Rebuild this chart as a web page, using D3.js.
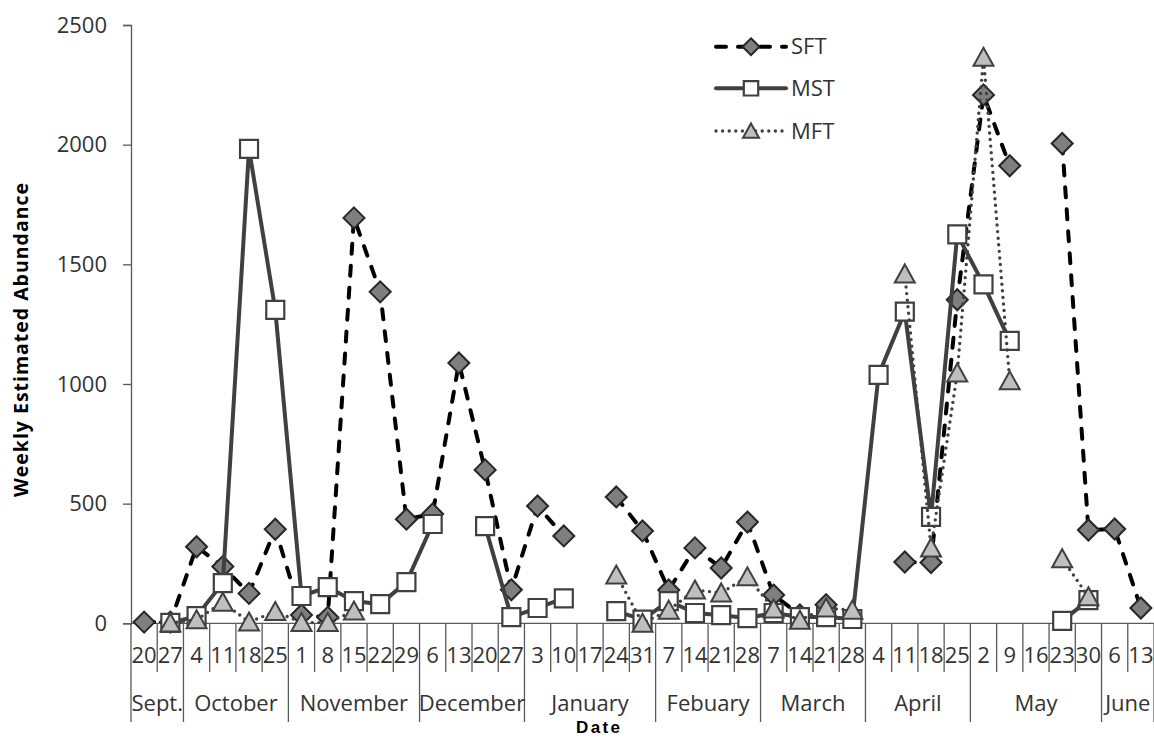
<!DOCTYPE html>
<html>
<head>
<meta charset="utf-8">
<script src="https://cdn.jsdelivr.net/npm/d3@7"></script>
<style>
  html, body { margin: 0; padding: 0; background: #fff; }
  svg { display: block; font-family: "Open Sans", "Liberation Sans", sans-serif; }
</style>
</head>
<body>
<svg id="chart" width="1154" height="738"></svg>
<script>
// ---- data ----
const days = ["20","27","4","11","18","25","1","8","15","22","29","6","13","20","27","3","10","17","24","31","7","14","21","28","7","14","21","28","4","11","18","25","2","9","16","23","30","6","13"];
const months = ["Sept.","October","November","December","January","Febuary","March","April","May","June"];
const monthWeeks = [2,4,5,4,5,4,4,4,5,2];
const yTicks = [0,500,1000,1500,2000,2500];

const SFT = [5,5,320,237,125,393,35,25,1694,1385,435,457,1088,641,140,490,365,null,528,386,139,315,231,423,118,35,78,null,null,256,254,1352,2208,1912,null,2005,390,394,64];
const MST = [null,2,30,168,1982,1310,114,151,93,80,172,415,null,406,26,64,104,null,51,15,93,43,34,22,43,26,26,18,1038,1302,445,1625,1416,1180,null,10,97,null,null];
const MFT = [null,1,15,88,5,49,3,3,51,null,null,null,null,null,null,null,null,null,202,0,55,139,127,194,60,13,64,55,null,1460,315,1046,2365,1013,null,270,111,null,null];

const seriesNames = ["SFT","MST","MFT"];

// ---- layout ----
const svg = d3.select("#chart");
const plotLeft = 131, plotRight = 1154, plotTop = 25, plotBottom = 623.3;

const x = d3.scaleBand().domain(d3.range(days.length)).range([plotLeft, plotRight]).padding(0);
const y = d3.scaleLinear().domain([0, 2500]).range([plotBottom, plotTop]);

// ---- y axis ----
const yAxis = d3.axisLeft(y).tickValues(yTicks).tickSize(8).tickPadding(16).tickFormat(d3.format("d"));
const gy = svg.append("g").attr("transform", `translate(${plotLeft},0)`).call(yAxis);
gy.select(".domain").attr("stroke", "#595959").attr("stroke-width", 1.3);
gy.selectAll(".tick line").attr("stroke", "#595959").attr("stroke-width", 1.3);
gy.selectAll(".tick text").attr("font-size", 22).attr("fill", "#333").attr("font-family", "Open Sans, sans-serif");

// ---- x axis (multi-level category) ----
const gx = svg.append("g");
gx.append("line").attr("x1", plotLeft).attr("x2", plotRight).attr("y1", plotBottom).attr("y2", plotBottom)
  .attr("stroke", "#595959").attr("stroke-width", 1.3);
const monthBounds = d3.cumsum([0].concat(monthWeeks));
const boundSet = new Set(Array.from(monthBounds));
const bounds = d3.range(days.length + 1);
gx.selectAll("line.b").data(bounds).join("line")
  .attr("class", "b")
  .attr("x1", i => i < days.length ? x(i) : plotRight)
  .attr("x2", i => i < days.length ? x(i) : plotRight)
  .attr("y1", plotBottom)
  .attr("y2", i => boundSet.has(i) ? 722 : 672)
  .attr("stroke", "#595959").attr("stroke-width", 1.3);
gx.selectAll("text.day").data(days).join("text")
  .attr("class", "day")
  .attr("x", (d, i) => x(i) + x.bandwidth() / 2)
  .attr("y", 663)
  .attr("text-anchor", "middle")
  .attr("font-size", 22).attr("fill", "#333")
  .text(d => d);
gx.selectAll("text.month").data(months).join("text")
  .attr("class", "month")
  .attr("x", (d, i) => (x(monthBounds[i]) + (monthBounds[i + 1] < days.length ? x(monthBounds[i + 1]) : plotRight)) / 2)
  .attr("y", 711)
  .attr("text-anchor", "middle")
  .attr("font-size", 22).attr("fill", "#333")
  .text(d => d);

// ---- axis titles ----
svg.append("text")
  .attr("transform", "translate(28,340) rotate(-90)")
  .attr("text-anchor", "middle")
  .attr("font-size", 19.5).attr("font-weight", "bold").attr("fill", "#000")
  .attr("textLength", 314).attr("lengthAdjust", "spacing")
  .text("Weekly Estimated Abundance");
svg.append("text")
  .attr("x", 598).attr("y", 733)
  .attr("text-anchor", "middle")
  .attr("font-family", "Liberation Sans, Arial, sans-serif")
  .attr("font-size", 17).attr("font-weight", "bold").attr("fill", "#000")
  .attr("textLength", 44).attr("lengthAdjust", "spacing")
  .text("Date");

// ---- marker shapes ----
const diamondPath = "M0,-10.5L10.5,0L0,10.5L-10.5,0Z";
const squarePath = "M-9,-9H9V9H-9Z";
const trianglePath = "M0,-9.5L10,8.5L-10,8.5Z";

const styles = {
  SFT: { data: SFT, stroke: "#000", width: 4, dash: "10,12", cap: "round", path: diamondPath, fill: "#7f7f7f", mstroke: "#262626", mw: 2 },
  MST: { data: MST, stroke: "#404040", width: 4, dash: null, cap: "round", path: squarePath, fill: "#fff", mstroke: "#404040", mw: 2.2 },
  MFT: { data: MFT, stroke: "#404040", width: 3.4, dash: "0,6.6", cap: "round", path: trianglePath, fill: "#bfbfbf", mstroke: "#404040", mw: 2 }
};

const line = d3.line()
  .defined(d => d[1] !== null)
  .x(d => x(d[0]) + x.bandwidth() / 2)
  .y(d => y(d[1]));

seriesNames.forEach(name => {
  const s = styles[name];
  const pts = s.data.map((v, i) => [i, v]);
  const g = svg.append("g").attr("class", "series-" + name);
  g.append("path")
    .attr("d", line(pts))
    .attr("fill", "none")
    .attr("stroke", s.stroke)
    .attr("stroke-width", s.width)
    .attr("stroke-linecap", s.cap)
    .attr("stroke-linejoin", "round")
    .attr("stroke-dasharray", s.dash);
  g.selectAll("path.m").data(pts.filter(p => p[1] !== null)).join("path")
    .attr("class", "m")
    .attr("d", s.path)
    .attr("transform", p => `translate(${x(p[0]) + x.bandwidth() / 2},${y(p[1])})`)
    .attr("fill", s.fill)
    .attr("stroke", s.mstroke)
    .attr("stroke-width", s.mw);
});

// ---- legend ----
const legendY = [46.7, 88.3, 131];
const lg = svg.append("g");
seriesNames.forEach((name, k) => {
  const s = styles[name];
  const ly = legendY[k];
  lg.append("line")
    .attr("x1", 716).attr("x2", 786).attr("y1", ly).attr("y2", ly)
    .attr("stroke", s.stroke).attr("stroke-width", s.width)
    .attr("stroke-linecap", s.cap).attr("stroke-dasharray", s.dash);
  lg.append("path")
    .attr("d", s.path)
    .attr("transform", `translate(751,${ly}) scale(0.8)`)
    .attr("fill", s.fill).attr("stroke", s.mstroke).attr("stroke-width", s.mw / 0.8);
  lg.append("text")
    .attr("x", 791).attr("y", ly)
    .attr("dy", "0.35em")
    .attr("font-size", 22).attr("fill", "#333")
    .text(name);
});
</script>
</body>
</html>
